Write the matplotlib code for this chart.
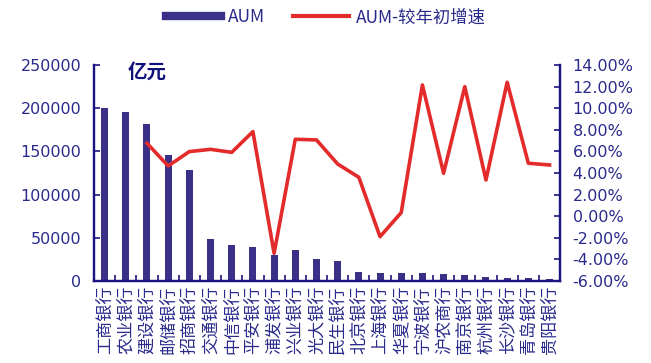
import numpy as np
import matplotlib.pyplot as plt
from matplotlib.lines import Line2D

plt.rcParams['font.family'] = ['Noto Sans CJK SC', 'DejaVu Sans']

# Data
banks = ['工商银行', '农业银行', '建设银行', '邮储银行', '招商银行', '交通银行',
         '中信银行', '平安银行', '浦发银行', '兴业银行', '光大银行', '民生银行',
         '北京银行', '上海银行', '华夏银行', '宁波银行', '沪农商行', '南京银行',
         '杭州银行', '长沙银行', '青岛银行', '贵阳银行']
aum = [200000, 196000, 181500, 145500, 128500, 49000, 41300, 39000, 30000,
       35900, 25800, 23000, 10200, 9500, 9000, 8800, 7800, 7000, 4500, 3500,
       3000, 1800]
growth = [np.nan, np.nan, 6.75, 4.65, 5.98, 6.19, 5.91, 7.83, -3.44, 7.12,
          7.06, 4.83, 3.60, -1.90, 0.33, 12.15, 3.97, 11.99, 3.35, 12.40,
          4.90, 4.74]

navy = '#1c1480'
txt = '#2a2a8c'
bar_c = '#3a3087'
red = '#e32b2b'

fig = plt.figure(figsize=(6.51, 3.63), dpi=100)
ax = fig.add_axes([0.1444, 0.226, 0.716, 0.595])
ax2 = ax.twinx()

x = np.arange(len(banks))
ax.bar(x, aum, width=0.33, color=bar_c, zorder=2)
ax2.plot(x, growth, color=red, lw=2.6, zorder=3)

ax.set_xlim(-0.5, len(banks) - 0.5)
ax.set_ylim(0, 250000)
ax.set_yticks(np.arange(0, 250001, 50000))
ax.set_yticklabels([str(v) for v in range(0, 250001, 50000)],
                   family='DejaVu Sans')
ax2.set_ylim(-6, 14)
ax2.set_yticks(np.arange(-6, 14.1, 2))
ax2.set_yticklabels(['%.2f%%' % v for v in np.arange(-6, 14.1, 2)],
                    family='DejaVu Sans')

# category ticks between bars, labels centered under bars
ax.set_xticks(np.arange(-0.5, len(banks), 1))
ax.set_xticklabels([])
ax.set_xticks(x, minor=True)
ax.set_xticklabels(banks, minor=True, rotation=90, fontsize=12.3, color=txt,
                   va='top')
ax.tick_params(axis='x', which='minor', length=0, pad=3)
ax.tick_params(axis='x', which='major', direction='in', length=4,
               color=navy, width=1.2)

ax.tick_params(axis='y', direction='in', length=4, color=navy, width=1.2,
               labelcolor=txt, labelsize=11.5, pad=9)
ax2.tick_params(axis='y', direction='in', length=4, color=navy, width=1.2,
                labelcolor=txt, labelsize=11.5, pad=9)

for a in (ax, ax2):
    a.spines['top'].set_visible(False)
    for s in ('left', 'right', 'bottom'):
        a.spines[s].set_color(navy)
        a.spines[s].set_linewidth(1.6)

ax.text(0.072, 1.01, '亿元', transform=ax.transAxes, fontsize=14,
        fontweight='bold', color='#10107a', va='top', ha='left')

handles = [Line2D([0], [0], color=bar_c, lw=6),
           Line2D([0], [0], color=red, lw=3)]
fig.legend(handles, ['AUM', 'AUM-较年初增速'], loc='center',
           bbox_to_anchor=(0.5, 0.952), ncol=2, frameon=False,
           fontsize=12.5, labelcolor=txt, handlelength=3.2, columnspacing=1.6,
           handletextpad=0.4)

fig.savefig('out.png', dpi=100)
